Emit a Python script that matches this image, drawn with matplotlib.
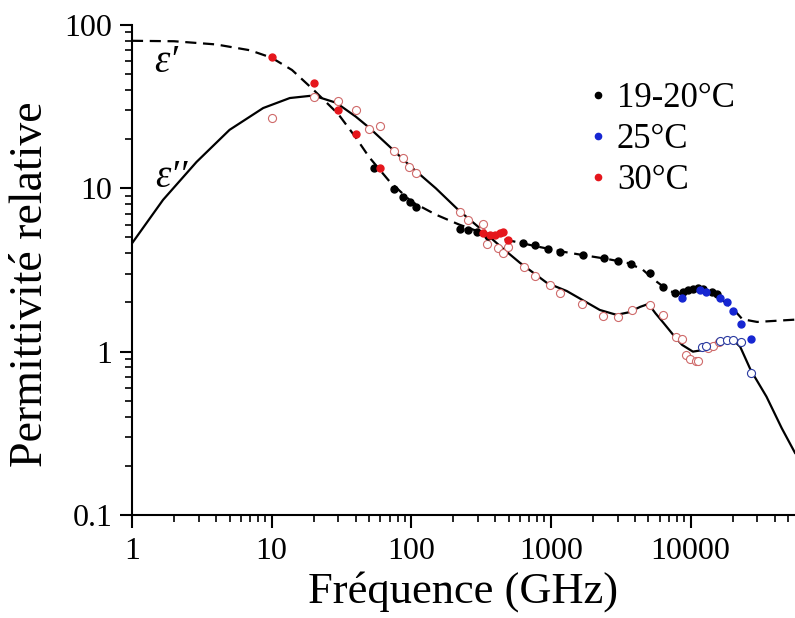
import matplotlib
matplotlib.use("Agg")
import matplotlib.pyplot as plt
from matplotlib.lines import Line2D

plt.rcParams["font.family"] = ["Liberation Serif", "DejaVu Serif"]

# --- model curves ---
eps1_f = [1, 2, 4, 7, 10, 14, 20, 30, 40, 50, 70, 100, 150, 220, 330, 500, 800,
          1200, 1700, 2500, 3500, 4500, 5500, 6800, 8000, 9500, 11000, 13000,
          15500, 18000, 21000, 23500, 30000, 56000]
eps1_v = [80, 79.5, 76, 70, 63, 53, 40, 28.5, 20.5, 15.5, 11, 8.3, 6.9, 6.0, 5.3,
          4.8, 4.4, 4.1, 3.9, 3.7, 3.5, 3.2, 2.75, 2.4, 2.25, 2.33, 2.42, 2.38,
          2.2, 1.98, 1.76, 1.58, 1.52, 1.57]

eps2_f = [1, 1.67, 2.9, 5, 8.7, 13.5, 18.8, 22, 29, 40, 50, 70, 100, 150, 220,
          310, 450, 600, 940, 1300, 2240, 2950, 3600, 4360, 5000, 5600, 6400,
          7500, 8700, 10400, 12000, 14000, 16300, 20200, 22700, 27000, 35000,
          45000, 56000]
eps2_v = [4.6, 8.5, 14.5, 22.8, 31, 35.7, 36.8, 36, 33.4, 27.5, 23.5, 18, 13.5,
          10, 7.3, 5.7, 4.3, 3.5, 2.63, 2.35, 1.80, 1.68, 1.74, 1.88, 1.96, 1.72,
          1.5, 1.27, 1.1, 1.0, 1.02, 1.1, 1.17, 1.18, 1.07, 0.77, 0.53, 0.34, 0.24]

# --- measurements: eps' (filled) ---
black_f = [54, 75, 87, 98, 108, 223, 256, 295, 355, 630, 770, 960, 1160, 1700,
           2400, 3000, 3740, 5100, 6400, 7700, 8850, 9600, 10400, 11300, 12300,
           14300, 15500]
black_v = [13.3, 9.9, 8.85, 8.3, 7.7, 5.64, 5.56, 5.4, 5.1, 4.6, 4.5, 4.28, 4.07,
           3.9, 3.75, 3.6, 3.45, 3.03, 2.5, 2.27, 2.32, 2.37, 2.42, 2.45, 2.42,
           2.32, 2.26]

blue_f = [8700, 11700, 13000, 16300, 18100, 20300, 23000, 27300]
blue_v = [2.13, 2.37, 2.32, 2.13, 2.01, 1.77, 1.48, 1.19]

red_f = [10, 20, 30, 40, 60, 327, 367, 398, 433, 455, 494]
red_v = [64, 44, 30, 21.5, 13.3, 5.33, 5.19, 5.19, 5.33, 5.4, 4.82]

# --- measurements: eps'' (open) ---
red_open_f = [10, 20, 30, 40, 50, 60, 75, 87, 96, 108, 223, 256, 318, 325, 350,
              420, 455, 495, 640, 770, 985, 1160, 1680, 2360, 3000, 3820, 5100,
              6400, 7900, 8700, 9300, 9900, 10900, 11400, 13300, 14500, 15900]
red_open_v = [27, 36, 34, 30, 23, 24, 17, 15.3, 13.5, 12.4, 7.2, 6.4, 5.5, 6.05,
              4.57, 4.3, 4.0, 4.4, 3.3, 2.9, 2.56, 2.29, 1.96, 1.66, 1.62, 1.80,
              1.93, 1.68, 1.23, 1.19, 0.95, 0.90, 0.88, 0.88, 1.05, 1.09, 1.15]

blue_open_f = [12000, 13000, 16300, 18100, 20300, 23000, 27300]
blue_open_v = [1.07, 1.09, 1.17, 1.18, 1.18, 1.15, 0.74]

x_ticks = [1, 10, 100, 1000, 10000]
x_labels = ["1", "10", "100", "1000", "10000"]
y_ticks = [0.1, 1, 10, 100]
y_labels = ["0.1", "1", "10", "100"]

legend_labels = ["19-20°C", "25°C", "30°C"]
legend_colors = ["#000000", "#1626d2", "#e5161c"]

fig = plt.figure(figsize=(7.95, 6.18), dpi=100)
ax = fig.add_axes([0.166, 0.1667, 0.834, 0.7929])
ax.set_xscale("log")
ax.set_yscale("log")

ax.plot(eps1_f, eps1_v, color="black", lw=1.6, dashes=(5, 3), zorder=2)
ax.plot(eps2_f, eps2_v, color="black", lw=1.6, zorder=2)

ax.plot(red_open_f, red_open_v, ls="none", marker="o", ms=5.8, mfc="white",
        mec="#cf6a6a", mew=0.8, zorder=3)
ax.plot(blue_open_f, blue_open_v, ls="none", marker="o", ms=5.8, mfc="white",
        mec="#2a3aa0", mew=0.8, zorder=3)
ax.plot(black_f, black_v, ls="none", marker="o", ms=5, color="black", zorder=4)
ax.plot(blue_f, blue_v, ls="none", marker="o", ms=5, color="#1626d2", zorder=4)
ax.plot(red_f, red_v, ls="none", marker="o", ms=5, color="#e5161c", zorder=4)

ax.set_xlim(1, 56000)
ax.set_ylim(0.1, 100)
ax.set_xticks(x_ticks, x_labels)
ax.set_yticks(y_ticks, y_labels)
for s in ["top", "right"]:
    ax.spines[s].set_visible(False)
for s in ["left", "bottom"]:
    ax.spines[s].set_linewidth(1.5)
ax.tick_params(which="major", direction="out", length=9, width=1.5,
               labelsize=23, pad=5)
ax.tick_params(which="minor", direction="out", length=5, width=1.2)
ax.tick_params(axis="x", which="major", pad=7)

ax.set_xlabel("Fréquence (GHz)", fontsize=32)
ax.xaxis.set_label_coords(0.5, -0.115)
ax.set_ylabel("Permittivité relative", fontsize=33)
ax.yaxis.set_label_coords(-0.12, 0.47)

ax.text(1.75, 59, "ε′", fontsize=28, style="italic", ha="center", va="center")
ax.text(1.9, 11.6, "ε′′", fontsize=28, style="italic", ha="center", va="center")

handles = [Line2D([], [], ls="none", marker="o", ms=4.5, color=c)
           for c in legend_colors]
ax.legend(handles, legend_labels, loc="upper left",
          bbox_to_anchor=(0.741, 0.867), bbox_transform=fig.transFigure,
          frameon=False, fontsize=25, handlelength=0.5, handletextpad=0.3,
          labelspacing=0.23, borderpad=0, borderaxespad=0)

fig.savefig("out.png", dpi=100)
